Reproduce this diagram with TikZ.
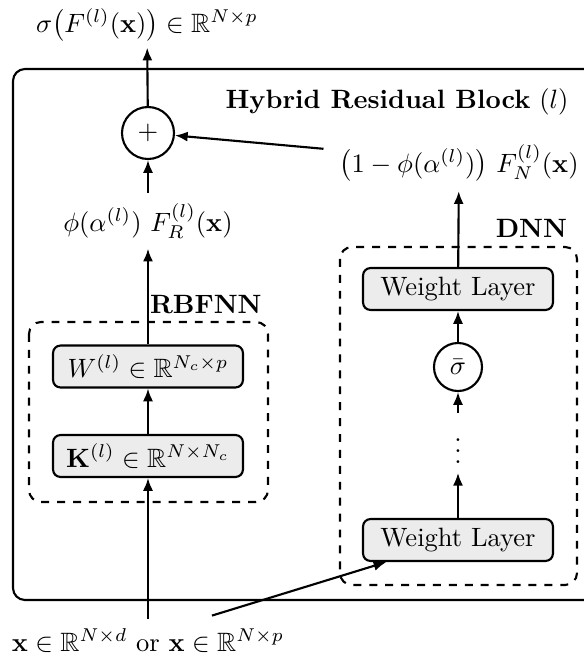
\documentclass[tikz,border=0pt]{standalone}
\usepackage{amsmath,amssymb}
\usetikzlibrary{arrows.meta,calc}
\begin{document}
\begin{tikzpicture}[x=0.377pt,y=-0.377pt,
  line width=0.8pt,
  arr/.style={-{Latex[length=4.8pt,width=3.8pt]}, line width=0.8pt},
  layer/.style={draw, rounded corners=2.8pt, fill=gray!15, minimum width=71.6pt, minimum height=15.8pt, inner sep=2pt},
  opnode/.style={draw, circle, inner sep=0pt},
  grp/.style={draw, dashed, rounded corners=4.5pt}]
\useasboundingbox (0,0) rectangle (584,665);
\clip (0,0) rectangle (584,665);
% outer block and groups
\draw[rounded corners=4.5pt] (13,69) rectangle (620,600);
\draw[grp] (29,322) rectangle (268,502);
\draw[grp] (340,247) rectangle (577,585);
% labels
\node[anchor=base, inner sep=2pt] (outlab) at (147,32) {$\sigma\big(F^{(l)}(\mathbf{x})\big) \in \mathbb{R}^{N\times p}$};
\node[anchor=base] (title) at (397,108) {\textbf{Hybrid Residual Block} $(l)$};
\node[anchor=base] (rlab) at (148,231) {$\phi(\alpha^{(l)})\ F_R^{(l)}(\mathbf{x})$};
\node[anchor=base] (nlab) at (459,172) {$\big(1-\phi(\alpha^{(l)})\big)\ F_N^{(l)}(\mathbf{x})$};
\node[anchor=base west, inner sep=0pt, font=\bfseries] (rbf) at (149,313) {RBFNN};
\node[anchor=base east, inner sep=0pt, font=\bfseries] (dnn) at (568,237) {DNN};
\node[anchor=base] (inlab) at (148,651) {$\mathbf{x}\in\mathbb{R}^{N\times d}$ or $\mathbf{x}\in\mathbb{R}^{N\times p}$};
% operators
\node[opnode, minimum size=19.6pt] (plus) at (148,133) {$+$};
\node[opnode, minimum size=18.1pt] (sig) at (458,367) {$\bar\sigma$};
% layers
\node[layer] (W) at (148,366.5) {$W^{(l)} \in \mathbb{R}^{N_c\times p}$};
\node[layer] (K) at (148,456) {$\mathbf{K}^{(l)} \in \mathbb{R}^{N\times N_c}$};
\node[layer] (WL2) at (458,289) {Weight Layer};
\node[layer] (WL1) at (458,540) {Weight Layer};
\node[anchor=base] (dots) at (458,463) {$\vdots$};
% connectors
\coordinate (inB) at ($(inlab.north)+(64,-3)$);
\coordinate (nA) at ($(nlab.west)+(-6,-14)$);
\draw[arr] (plus) -- (outlab);
\draw[arr] (rlab) -- (plus);
\draw[arr] (W) -- (rlab);
\draw[arr] (K) -- (W);
\draw[arr] (inlab.north) -- (K);
\draw[arr] (inB) -- (WL1);
\draw[arr] (WL1) -- (dots);
\draw[arr] (dots) -- (sig);
\draw[arr] (sig) -- (WL2);
\draw[arr] (WL2) -- (nlab);
\draw[arr] (nA) -- (plus);
\end{tikzpicture}
\end{document}
